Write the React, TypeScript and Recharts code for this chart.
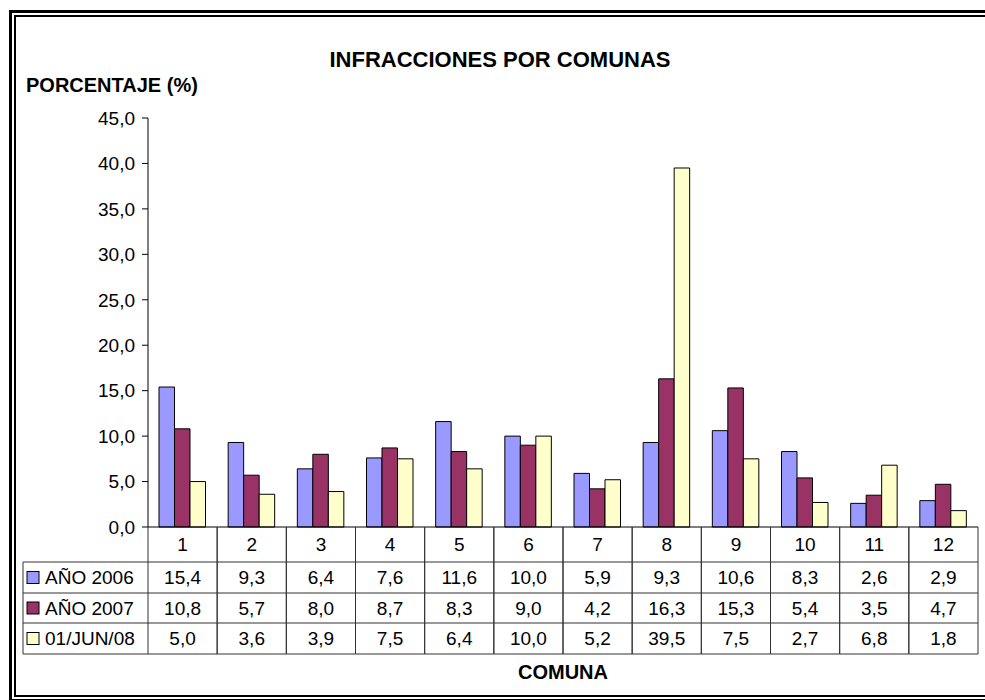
import { Bar, BarChart, XAxis, YAxis } from "recharts";

const comunas = ["1", "2", "3", "4", "5", "6", "7", "8", "9", "10", "11", "12"];
const ano2006 = [15.4, 9.3, 6.4, 7.6, 11.6, 10.0, 5.9, 9.3, 10.6, 8.3, 2.6, 2.9];
const ano2007 = [10.8, 5.7, 8.0, 8.7, 8.3, 9.0, 4.2, 16.3, 15.3, 5.4, 3.5, 4.7];
const jun08 = [5.0, 3.6, 3.9, 7.5, 6.4, 10.0, 5.2, 39.5, 7.5, 2.7, 6.8, 1.8];
const seriesNames = ["AÑO 2006", "AÑO 2007", "01/JUN/08"];
const seriesColors = ["#9999FF", "#993366", "#FFFFCC"];
const yTicks = [0, 5, 10, 15, 20, 25, 30, 35, 40, 45];

const data = comunas.map((comuna, i) => ({
  comuna,
  a2006: ano2006[i],
  a2007: ano2007[i],
  j2008: jun08[i],
}));
const seriesValues = [ano2006, ano2007, jun08];
const seriesKeys = ["a2006", "a2007", "j2008"];

const FONT = '"Liberation Sans", Arial, sans-serif';
const WIDTH = 985;
const HEIGHT = 700;
const PLOT_LEFT = 148;
const PLOT_RIGHT = 978;
const COL_W = (PLOT_RIGHT - PLOT_LEFT) / comunas.length;
const LEGEND_LEFT = 23;
// table row boundaries, relative to the x axis line
const ROWS = [0, 35, 66, 96, 127];
const LINE = "#333";

function fmt(v: number) {
  return v.toFixed(1).replace(".", ",");
}

function TableTick(props: any) {
  const { x, y, payload, index } = props;
  const half = COL_W / 2;
  const left = x - half;
  const right = x + half;
  const mid = (a: number, b: number) => y + (ROWS[a] + ROWS[b]) / 2;

  return (
    <g fontFamily={FONT} fontSize={19} fill="#000">
      {/* column lines */}
      <line x1={left} x2={left} y1={y} y2={y + ROWS[4]} stroke={LINE} />
      <line x1={right} x2={right} y1={y} y2={y + ROWS[4]} stroke={LINE} />
      {ROWS.slice(1).map((r) => (
        <line key={r} x1={left} x2={right} y1={y + r} y2={y + r} stroke={LINE} />
      ))}
      <text x={x} y={mid(0, 1)} textAnchor="middle" dominantBaseline="central">
        {payload.value}
      </text>
      {seriesValues.map((vals, s) => (
        <text
          key={s}
          x={x}
          y={mid(s + 1, s + 2)}
          textAnchor="middle"
          dominantBaseline="central"
        >
          {fmt(vals[index])}
        </text>
      ))}
      {index === 0 && (
        <g>
          <line x1={LEGEND_LEFT} x2={LEGEND_LEFT} y1={y + ROWS[1]} y2={y + ROWS[4]} stroke={LINE} />
          {ROWS.slice(1).map((r) => (
            <line key={r} x1={LEGEND_LEFT} x2={left} y1={y + r} y2={y + r} stroke={LINE} />
          ))}
          {seriesNames.map((name, s) => (
            <g key={name}>
              <rect
                x={LEGEND_LEFT + 4}
                y={mid(s + 1, s + 2) - 6}
                width={12}
                height={12}
                fill={seriesColors[s]}
                stroke="#000"
              />
              <text x={LEGEND_LEFT + 22} y={mid(s + 1, s + 2)} dominantBaseline="central">
                {name}
              </text>
            </g>
          ))}
        </g>
      )}
    </g>
  );
}

export default function App() {
  return (
    <div
      style={{
        position: "absolute",
        top: 0,
        left: 0,
        width: WIDTH,
        height: HEIGHT,
        background: "#fff",
        overflow: "hidden",
        fontFamily: FONT,
      }}
    >
      {/* double frame, open on the right like the cropped original */}
      <div
        style={{
          position: "absolute",
          left: 9,
          top: 10,
          width: 990,
          height: 686,
          borderTop: "3px solid #000",
          borderLeft: "3px solid #000",
          borderBottom: "3px solid #000",
        }}
      />
      <div
        style={{
          position: "absolute",
          left: 14,
          top: 15,
          width: 990,
          height: 678,
          borderTop: "2px solid #000",
          borderLeft: "2px solid #000",
          borderBottom: "2px solid #000",
        }}
      />
      <div
        style={{
          position: "absolute",
          left: 0,
          width: 1000,
          top: 47,
          textAlign: "center",
          fontWeight: "bold",
          fontSize: 22,
          color: "#000",
        }}
      >
        INFRACCIONES POR COMUNAS
      </div>
      <div
        style={{
          position: "absolute",
          left: 26,
          top: 74,
          fontWeight: "bold",
          fontSize: 20,
          color: "#000",
        }}
      >
        PORCENTAJE (%)
      </div>
      <div style={{ position: "absolute", left: 0, top: 0 }}>
        <BarChart
          width={WIDTH}
          height={HEIGHT}
          data={data}
          margin={{ top: 118, right: WIDTH - PLOT_RIGHT, left: 0, bottom: 0 }}
          barGap={0}
          barSize={15.5}
        >
          <XAxis
            dataKey="comuna"
            height={173}
            interval={0}
            tickSize={0}
            tickMargin={0}
            tickLine={false}
            axisLine={{ stroke: "#000" }}
            tick={<TableTick />}
            label={{
              value: "COMUNA",
              position: "insideBottom",
              offset: 21,
              fontWeight: "bold",
              fontSize: 20,
              fill: "#000",
              fontFamily: FONT,
            }}
          />
          <XAxis
            xAxisId="top"
            dataKey="comuna"
            orientation="top"
            height={0}
            tick={false}
            tickLine={false}
            axisLine={{ stroke: "#333" }}
          />
          <YAxis
            width={PLOT_LEFT}
            domain={[0, 45]}
            ticks={yTicks}
            interval={0}
            tickSize={6}
            tickMargin={7}
            tickFormatter={(v) => fmt(Number(v))}
            tick={{ fontSize: 19, fill: "#000", fontFamily: FONT }}
            tickLine={{ stroke: "#000" }}
            axisLine={{ stroke: "#000" }}
          />
          <YAxis
            yAxisId="right"
            orientation="right"
            width={0}
            domain={[0, 45]}
            tick={false}
            tickLine={false}
            axisLine={{ stroke: "#333" }}
          />
          {seriesKeys.map((key, s) => (
            <Bar
              key={key}
              dataKey={key}
              name={seriesNames[s]}
              fill={seriesColors[s]}
              stroke="#000"
              strokeWidth={1}
              isAnimationActive={false}
            />
          ))}
        </BarChart>
      </div>
    </div>
  );
}
